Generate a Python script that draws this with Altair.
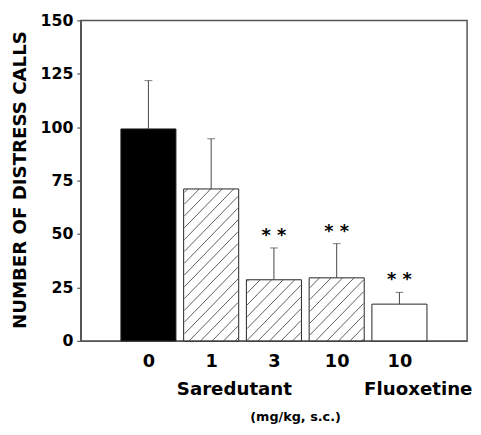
import altair as alt
import pandas as pd

# ---- data ----
doses = ["0", "1", "3", "10", "10"]
treatment = ["Vehicle", "Saredutant", "Saredutant", "Saredutant", "Fluoxetine"]
means = [99.2, 71.1, 28.6, 29.5, 17.2]
sems = [22.6, 23.5, 14.9, 16.0, 5.5]
signif = ["", "", "* *", "* *", "* *"]
group_labels = ["Saredutant", "Fluoxetine"]
y_ticks = [0, 25, 50, 75, 100, 125, 150]

# ---- layout / style constants ----
W, H = 393, 326
XMAX, YMAX = 6, 150
BAR_PX = 56
HATCH_PX = 12
FONT = "DejaVu Sans"
GREY = "#555555"

pos = list(range(1, len(doses) + 1))
df = pd.DataFrame({
    "pos": pos,
    "dose": doses,
    "treatment": treatment,
    "mean": means,
    "upper": [m + s for m, s in zip(means, sems)],
    "signif": signif,
})

# hatch segments for the Saredutant bars (45 deg lines clipped to each bar)
px_x = W / XMAX
px_y = H / YMAX
hx, hx2, hy, hy2 = [], [], [], []
for p, t, m in zip(pos, treatment, means):
    if t != "Saredutant":
        continue
    x0 = p * px_x - BAR_PX / 2
    x1 = p * px_x + BAR_PX / 2
    h = m * px_y
    k = int((x0 - h) // HATCH_PX) * HATCH_PX
    while k <= x1:
        w_lo = max(0.0, x0 - k)
        w_hi = min(h, x1 - k)
        if w_hi - w_lo > 0.5:
            hx.append((w_lo + k) / px_x)
            hx2.append((w_hi + k) / px_x)
            hy.append(w_lo / px_y)
            hy2.append(w_hi / px_y)
        k += HATCH_PX
hatch = pd.DataFrame({"hx": hx, "hx2": hx2, "hy": hy, "hy2": hy2})

groups = pd.DataFrame({"label": group_labels, "gx": [2.37, 5.30], "gy": [-25.5, -25.5]})

x_scale = alt.Scale(domain=[0, XMAX], nice=False, zero=False)
y_scale = alt.Scale(domain=[0, YMAX], nice=False)
label_expr = "[" + ",".join(f"'{d}'" for d in doses) + "][datum.value - 1]"

x_axis = alt.Axis(
    values=pos, labelExpr=label_expr, ticks=False, grid=False,
    labelFont=FONT, labelFontWeight="bold", labelFontSize=18, labelColor="black",
    labelPadding=12, domainColor=GREY, domainWidth=1.5,
    title="(mg/kg, s.c.)", titleFont=FONT, titleFontWeight="bold", titleFontSize=13,
    titleX=218, titleY=81, titleAlign="center", titleBaseline="alphabetic", titleColor="black",
)
y_axis = alt.Axis(
    values=y_ticks, grid=False, tickSize=4, tickColor=GREY, tickWidth=1.2,
    labelFont=FONT, labelFontWeight="bold", labelFontSize=16, labelColor="black",
    labelPadding=4, domainColor=GREY, domainWidth=1.5,
    title="NUMBER OF DISTRESS CALLS", titleFont=FONT, titleFontWeight="bold",
    titleFontSize=18.5, titleColor="black", titleX=-62, titleY=162,
    titleAlign="center", titleBaseline="middle",
)


def X(field):
    return alt.X(field, scale=x_scale, axis=x_axis)


def Y(field):
    return alt.Y(field, scale=y_scale, axis=y_axis)


base = alt.Chart(df)

bars = base.mark_bar(size=BAR_PX, stroke="#222222", strokeWidth=1).encode(
    x=X("pos:Q"),
    y=Y("mean:Q"),
    fill=alt.Fill("treatment:N", legend=None,
                  scale=alt.Scale(domain=["Vehicle", "Saredutant", "Fluoxetine"],
                                  range=["#000000", "#ffffff", "#ffffff"])),
)

hatch_layer = alt.Chart(hatch).mark_rule(color="#333333", strokeWidth=0.8).encode(
    x=X("hx:Q"), x2="hx2:Q",
    y=Y("hy:Q"), y2="hy2:Q",
)

err = base.mark_rule(color="#444444", strokeWidth=1).encode(
    x=X("pos:Q"), y=Y("mean:Q"), y2="upper:Q",
)
cap = base.mark_tick(orient="horizontal", size=8, thickness=1, color="#444444").encode(
    x=X("pos:Q"), y=Y("upper:Q"),
)
stars = base.mark_text(font=FONT, fontWeight="bold", fontSize=18, baseline="alphabetic",
                       dy=-7, color="black").encode(
    x=X("pos:Q"), y=Y("upper:Q"), text="signif:N",
)
group_text = alt.Chart(groups).mark_text(font=FONT, fontWeight="bold", fontSize=18.5,
                                         baseline="alphabetic", color="black").encode(
    x=X("gx:Q"), y=Y("gy:Q"), text="label:N",
)

chart = alt.layer(bars, hatch_layer, err, cap, stars, group_text).properties(
    width=W, height=H,
    autosize=alt.AutoSizeParams(type="none"),
    padding={"left": 74, "top": 9, "right": 6, "bottom": 84},
).configure_view(stroke=GREY, strokeWidth=1.5)

chart.save("out.html", embed_options={"renderer": "svg", "actions": False})
